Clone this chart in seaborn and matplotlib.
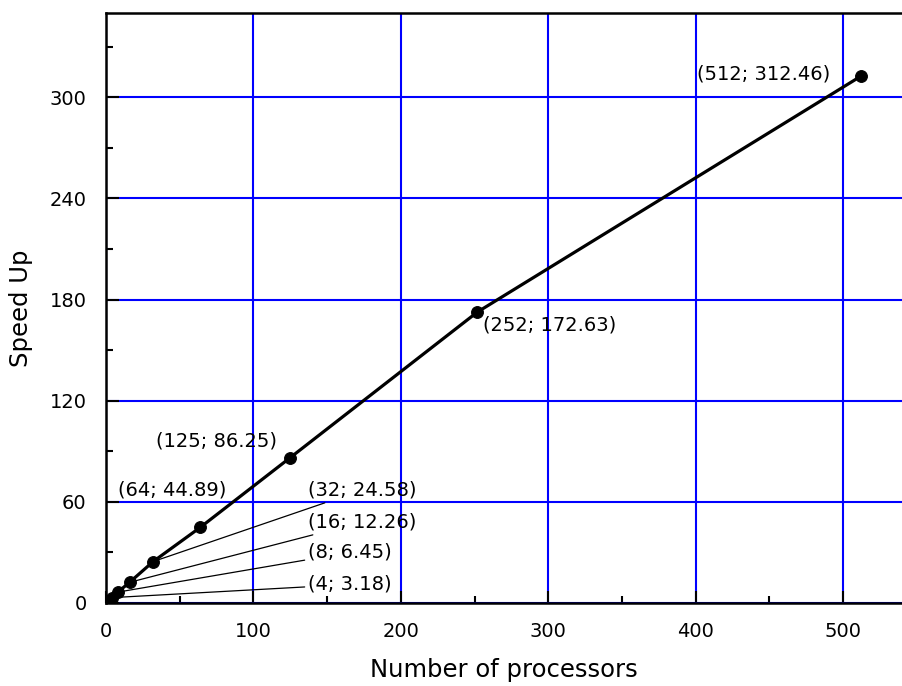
import matplotlib
matplotlib.use("Agg")
import matplotlib.pyplot as plt
import seaborn as sns
import pandas as pd
from matplotlib.ticker import MultipleLocator

# data
processors = [1, 4, 8, 16, 32, 64, 125, 252, 512]
speedup = [1.0, 3.18, 6.45, 12.26, 24.58, 44.89, 86.25, 172.63, 312.46]

# labelled points and where their text sits
label_x = [4, 8, 16, 32, 64, 125, 252, 512]
label_y = [3.18, 6.45, 12.26, 24.58, 44.89, 86.25, 172.63, 312.46]
label_txt = ["(4; 3.18)", "(8; 6.45)", "(16; 12.26)", "(32; 24.58)",
             "(64; 44.89)", "(125; 86.25)", "(252; 172.63)", "(512; 312.46)"]
text_pos = [(137, 11), (137, 30), (137, 48), (137, 67),
            (8, 67), (34, 96), (256, 165), (401, 314)]
leader = [True, True, True, True, False, False, False, False]

df = pd.DataFrame({"n": processors, "s": speedup})

sns.set_style("white")
plt.rcParams["font.family"] = ["DejaVu Sans"]
plt.rcParams["text.color"] = "black"
plt.rcParams["axes.labelcolor"] = "black"
plt.rcParams["xtick.color"] = "black"
plt.rcParams["ytick.color"] = "black"

fig = plt.figure(figsize=(9.02, 6.86), dpi=100)
ax = fig.add_axes([106 / 902, (686 - 603) / 686, (902 - 106) / 902, (603 - 13) / 686])

ax.grid(True, which="major", color="#0000ff", linewidth=1.5)
ax.set_axisbelow(True)

sns.lineplot(data=df, x="n", y="s", ax=ax, color="black", linewidth=2.3,
             marker="o", markersize=8.5, markeredgecolor="black", zorder=5)

fs = 14
for lx, ly, t, (tx, ty), ld in zip(label_x, label_y, label_txt, text_pos, leader):
    if ld:
        ax.annotate(t, xy=(lx, ly), xytext=(tx, ty), fontsize=fs, va="center", ha="left",
                    arrowprops=dict(arrowstyle="-", color="black", lw=0.9,
                                    shrinkA=0, shrinkB=0))
    else:
        ax.text(tx, ty, t, fontsize=fs, va="center", ha="left")

ax.set_xlim(0, 540)
ax.set_ylim(0, 350)
ax.xaxis.set_major_locator(MultipleLocator(100))
ax.xaxis.set_minor_locator(MultipleLocator(50))
ax.yaxis.set_major_locator(MultipleLocator(60))
ax.yaxis.set_minor_locator(MultipleLocator(30))
ax.tick_params(which="major", direction="in", length=9, width=1.5, labelsize=14,
               pad=14, bottom=True, left=True)
ax.tick_params(which="minor", direction="in", length=5, width=1.5, bottom=True, left=True)

for s in ["left", "bottom", "top"]:
    ax.spines[s].set_color("black")
    ax.spines[s].set_linewidth(1.8)
ax.spines["right"].set_visible(False)

ax.set_xlabel("Number of processors", fontsize=17.5, labelpad=12)
ax.set_ylabel("Speed Up", fontsize=17.5, labelpad=12)

fig.savefig("out.png", dpi=100)
